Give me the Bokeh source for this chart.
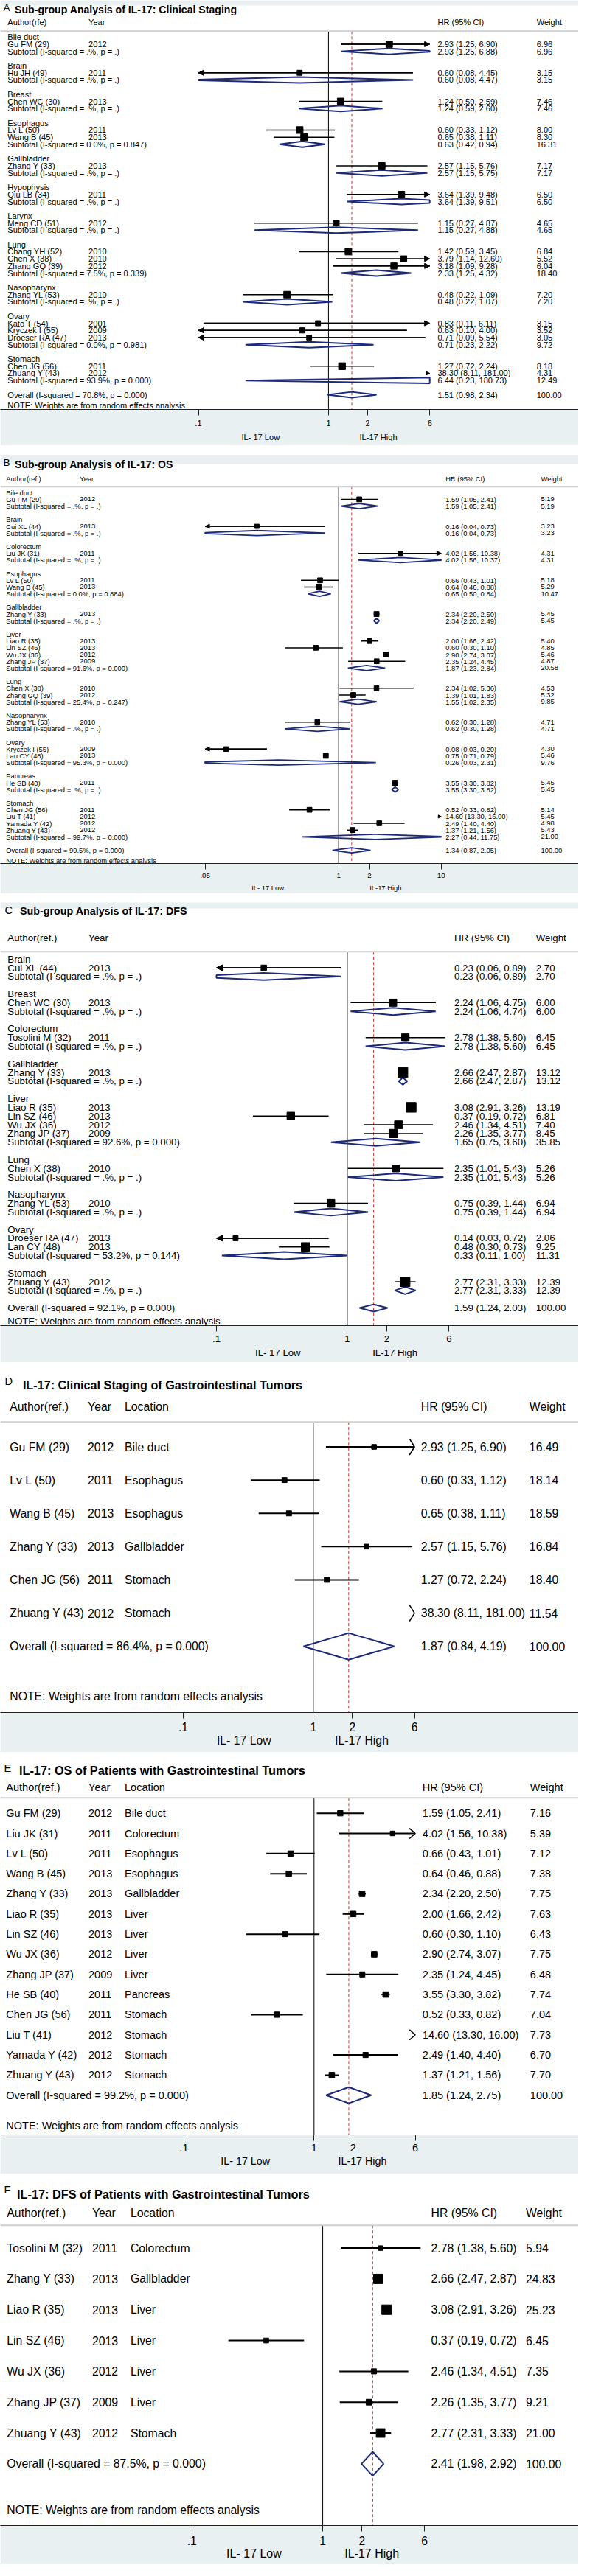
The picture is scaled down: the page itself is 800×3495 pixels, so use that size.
import math
from bokeh.plotting import figure
from bokeh.models import (Range1d, FixedTicker, CustomJSTickFormatter, LogAxis, LabelSet,
                          ColumnDataSource, BoxAnnotation, Arrow, NormalHead, Span)
from bokeh.layouts import column
from bokeh.embed import file_html
from bokeh.resources import INLINE
from bokeh.core.properties import value

# ======================= DATA =======================
NULL_HR = 1.0
NOTE_TEXT = "NOTE: Weights are from random effects analysis"
LOW_LABEL = "IL- 17 Low"
HIGH_LABEL = "IL-17 High"

# ---- Panel A : clinical staging (subgroups) ----
A_letter = "A"
A_title = "Sub-group Analysis of IL-17: Clinical Staging"
A_header = ["Author(rfe)", "Year", "HR (95% CI)", "Weight"]
A_ticks = [0.1, 1, 2, 6]
A_groups = ["Bile duct", "Brain", "Breast", "Esophagus", "Gallbladder", "Hypophysis",
            "Larynx", "Lung", "Nasopharynx", "Ovary", "Stomach"]
A_study_group = [0, 1, 2, 3, 3, 4, 5, 6, 7, 7, 7, 8, 9, 9, 9, 10, 10]
A_authors = ["Gu FM (29)", "Hu JH (49)", "Chen WC (30)", "Lv L (50)", "Wang B (45)",
             "Zhang Y (33)", "Qiu LB (34)", "Meng CD (51)", "Chang YH (52)", "Chen X (38)",
             "Zhang GQ (39)", "Zhang YL (53)", "Kato T (54)", "Kryczek I (55)",
             "Droeser RA (47)", "Chen JG (56)", "Zhuang Y (43)"]
A_years = ["2012", "2011", "2013", "2011", "2013", "2013", "2011", "2012", "2010", "2010",
           "2012", "2010", "2001", "2009", "2013", "2011", "2012"]
A_hr = [2.93, 0.60, 1.24, 0.60, 0.65, 2.57, 3.64, 1.15, 1.42, 3.79, 3.18, 0.48, 0.83, 0.63, 0.71, 1.27, 38.30]
A_lo = [1.25, 0.08, 0.59, 0.33, 0.38, 1.15, 1.39, 0.27, 0.59, 1.14, 1.09, 0.22, 0.11, 0.10, 0.09, 0.72, 8.11]
A_hi = [6.90, 4.45, 2.59, 1.12, 1.11, 5.76, 9.48, 4.87, 3.45, 12.60, 9.28, 1.09, 6.11, 4.00, 5.54, 2.24, 181.00]
A_wt = [6.96, 3.15, 7.46, 8.00, 8.30, 7.17, 6.50, 4.65, 6.84, 5.52, 6.04, 7.20, 3.15, 3.52, 3.05, 8.18, 4.31]
A_sub_i2 = [".%", ".%", ".%", "0.0%", ".%", ".%", ".%", "7.5%", ".%", "0.0%", "93.9%"]
A_sub_p = [".", ".", ".", "0.847", ".", ".", ".", "0.339", ".", "0.981", "0.000"]
A_sub_hr = [2.93, 0.60, 1.24, 0.63, 2.57, 3.64, 1.15, 2.33, 0.48, 0.71, 6.44]
A_sub_lo = [1.25, 0.08, 0.59, 0.42, 1.15, 1.39, 0.27, 1.25, 0.22, 0.23, 0.23]
A_sub_hi = [6.88, 4.47, 2.60, 0.94, 5.75, 9.51, 4.88, 4.32, 1.07, 2.22, 180.73]
A_sub_wt = [6.96, 3.15, 7.46, 16.31, 7.17, 6.50, 4.65, 18.40, 7.20, 9.72, 12.49]
A_ov = ["70.8%", "0.000", 1.51, 0.98, 2.34, 100.00]

# ---- Panel B : OS (subgroups) ----
B_letter = "B"
B_title = "Sub-group Analysis of IL-17: OS"
B_header = ["Author(ref.)", "Year", "HR (95% CI)", "Weight"]
B_ticks = [0.05, 1, 2, 10]
B_groups = ["Bile duct", "Brain", "Colorectum", "Esophagus", "Gallbladder", "Liver", "Lung",
            "Nasopharynx", "Ovary", "Pancreas", "Stomach"]
B_study_group = [0, 1, 2, 3, 3, 4, 5, 5, 5, 5, 6, 6, 7, 8, 8, 9, 10, 10, 10, 10]
B_authors = ["Gu FM (29)", "Cui XL (44)", "Liu JK (31)", "Lv L (50)", "Wang B (45)",
             "Zhang Y (33)", "Liao R (35)", "Lin SZ (46)", "Wu JX (36)", "Zhang JP (37)",
             "Chen X (38)", "Zhang GQ (39)", "Zhang YL (53)", "Kryczek I (55)", "Lan CY (48)",
             "He SB (40)", "Chen JG (56)", "Liu T (41)", "Yamada Y (42)", "Zhuang Y (43)"]
B_years = ["2012", "2013", "2011", "2011", "2013", "2013", "2013", "2013", "2012", "2009",
           "2010", "2012", "2010", "2009", "2013", "2011", "2011", "2012", "2012", "2012"]
B_hr = [1.59, 0.16, 4.02, 0.66, 0.64, 2.34, 2.00, 0.60, 2.90, 2.35, 2.34, 1.39, 0.62, 0.08, 0.75, 3.55, 0.52, 14.60, 2.49, 1.37]
B_lo = [1.05, 0.04, 1.56, 0.43, 0.46, 2.20, 1.66, 0.30, 2.74, 1.24, 1.02, 1.01, 0.30, 0.03, 0.71, 3.30, 0.33, 13.30, 1.40, 1.21]
B_hi = [2.41, 0.73, 10.38, 1.01, 0.88, 2.50, 2.42, 1.10, 3.07, 4.45, 5.36, 1.83, 1.28, 0.20, 0.79, 3.82, 0.82, 16.00, 4.40, 1.56]
B_wt = [5.19, 3.23, 4.31, 5.18, 5.29, 5.45, 5.40, 4.85, 5.46, 4.87, 4.53, 5.32, 4.71, 4.30, 5.46, 5.45, 5.14, 5.45, 4.98, 5.43]
B_sub_i2 = [".%", ".%", ".%", "0.0%", ".%", "91.6%", "25.4%", ".%", "95.3%", ".%", "99.7%"]
B_sub_p = [".", ".", ".", "0.884", ".", "0.000", "0.247", ".", "0.000", ".", "0.000"]
B_sub_hr = [1.59, 0.16, 4.02, 0.65, 2.34, 1.87, 1.55, 0.62, 0.26, 3.55, 2.27]
B_sub_lo = [1.05, 0.04, 1.56, 0.50, 2.20, 1.23, 1.02, 0.30, 0.03, 3.30, 0.44]
B_sub_hi = [2.41, 0.73, 10.37, 0.84, 2.49, 2.84, 2.35, 1.28, 2.31, 3.82, 11.75]
B_sub_wt = [5.19, 3.23, 4.31, 10.47, 5.45, 20.58, 9.85, 4.71, 9.76, 5.45, 21.00]
B_ov = ["99.5%", "0.000", 1.34, 0.87, 2.05, 100.00]

# ---- Panel C : DFS (subgroups) ----
C_letter = "C"
C_title = "Sub-group Analysis of IL-17: DFS"
C_header = ["Author(ref.)", "Year", "HR (95% CI)", "Weight"]
C_ticks = [0.1, 1, 2, 6]
C_groups = ["Brain", "Breast", "Colorectum", "Gallbladder", "Liver", "Lung", "Nasopharynx",
            "Ovary", "Stomach"]
C_study_group = [0, 1, 2, 3, 4, 4, 4, 4, 5, 6, 7, 7, 8]
C_authors = ["Cui XL (44)", "Chen WC (30)", "Tosolini M (32)", "Zhang Y (33)", "Liao R (35)",
             "Lin SZ (46)", "Wu JX (36)", "Zhang JP (37)", "Chen X (38)", "Zhang YL (53)",
             "Droeser RA (47)", "Lan CY (48)", "Zhuang Y (43)"]
C_years = ["2013", "2013", "2011", "2013", "2013", "2013", "2012", "2009", "2010", "2010",
           "2013", "2013", "2012"]
C_hr = [0.23, 2.24, 2.78, 2.66, 3.08, 0.37, 2.46, 2.26, 2.35, 0.75, 0.14, 0.48, 2.77]
C_lo = [0.06, 1.06, 1.38, 2.47, 2.91, 0.19, 1.34, 1.35, 1.01, 0.39, 0.03, 0.30, 2.31]
C_hi = [0.89, 4.75, 5.60, 2.87, 3.26, 0.72, 4.51, 3.77, 5.43, 1.44, 0.72, 0.73, 3.33]
C_wt = [2.70, 6.00, 6.45, 13.12, 13.19, 6.81, 7.40, 8.45, 5.26, 6.94, 2.06, 9.25, 12.39]
C_sub_i2 = [".%", ".%", ".%", ".%", "92.6%", ".%", ".%", "53.2%", ".%"]
C_sub_p = [".", ".", ".", ".", "0.000", ".", ".", "0.144", "."]
C_sub_hr = [0.23, 2.24, 2.78, 2.66, 1.65, 2.35, 0.75, 0.33, 2.77]
C_sub_lo = [0.06, 1.06, 1.38, 2.47, 0.75, 1.01, 0.39, 0.11, 2.31]
C_sub_hi = [0.89, 4.74, 5.60, 2.87, 3.60, 5.43, 1.44, 1.00, 3.33]
C_sub_wt = [2.70, 6.00, 6.45, 13.12, 35.85, 5.26, 6.94, 11.31, 12.39]
C_ov = ["92.1%", "0.000", 1.59, 1.24, 2.03, 100.00]

# ---- Panel D : clinical staging, GI tumours ----
D_letter = "D"
D_title = "IL-17: Clinical Staging of Gastrointestinal Tumors"
D_header = ["Author(ref.)", "Year", "Location", "HR (95% CI)", "Weight"]
D_ticks = [0.1, 1, 2, 6]
D_authors = ["Gu FM (29)", "Lv L (50)", "Wang B (45)", "Zhang Y (33)", "Chen JG (56)", "Zhuang Y (43)"]
D_years = ["2012", "2011", "2013", "2013", "2011", "2012"]
D_locs = ["Bile duct", "Esophagus", "Esophagus", "Gallbladder", "Stomach", "Stomach"]
D_hr = [2.93, 0.60, 0.65, 2.57, 1.27, 38.30]
D_lo = [1.25, 0.33, 0.38, 1.15, 0.72, 8.11]
D_hi = [6.90, 1.12, 1.11, 5.76, 2.24, 181.00]
D_wt = [16.49, 18.14, 18.59, 16.84, 18.40, 11.54]
D_ov = ["86.4%", "0.000", 1.87, 0.84, 4.19, 100.00]

# ---- Panel E : OS, GI tumours ----
E_letter = "E"
E_title = "IL-17: OS of Patients with Gastrointestinal Tumors"
E_header = ["Author(ref.)", "Year", "Location", "HR (95% CI)", "Weight"]
E_ticks = [0.1, 1, 2, 6]
E_authors = ["Gu FM (29)", "Liu JK (31)", "Lv L (50)", "Wang B (45)", "Zhang Y (33)", "Liao R (35)",
             "Lin SZ (46)", "Wu JX (36)", "Zhang JP (37)", "He SB (40)", "Chen JG (56)",
             "Liu T (41)", "Yamada Y (42)", "Zhuang Y (43)"]
E_years = ["2012", "2011", "2011", "2013", "2013", "2013", "2013", "2012", "2009", "2011",
           "2011", "2012", "2012", "2012"]
E_locs = ["Bile duct", "Colorectum", "Esophagus", "Esophagus", "Gallbladder", "Liver", "Liver",
          "Liver", "Liver", "Pancreas", "Stomach", "Stomach", "Stomach", "Stomach"]
E_hr = [1.59, 4.02, 0.66, 0.64, 2.34, 2.00, 0.60, 2.90, 2.35, 3.55, 0.52, 14.60, 2.49, 1.37]
E_lo = [1.05, 1.56, 0.43, 0.46, 2.20, 1.66, 0.30, 2.74, 1.24, 3.30, 0.33, 13.30, 1.40, 1.21]
E_hi = [2.41, 10.38, 1.01, 0.88, 2.50, 2.42, 1.10, 3.07, 4.45, 3.82, 0.82, 16.00, 4.40, 1.56]
E_wt = [7.16, 5.39, 7.12, 7.38, 7.75, 7.63, 6.43, 7.75, 6.48, 7.74, 7.04, 7.73, 6.70, 7.70]
E_ov = ["99.2%", "0.000", 1.85, 1.24, 2.75, 100.00]

# ---- Panel F : DFS, GI tumours ----
F_letter = "F"
F_title = "IL-17: DFS of Patients with Gastrointestinal Tumors"
F_header = ["Author(ref.)", "Year", "Location", "HR (95% CI)", "Weight"]
F_ticks = [0.1, 1, 2, 6]
F_authors = ["Tosolini M (32)", "Zhang Y (33)", "Liao R (35)", "Lin SZ (46)", "Wu JX (36)",
             "Zhang JP (37)", "Zhuang Y (43)"]
F_years = ["2011", "2013", "2013", "2013", "2012", "2009", "2012"]
F_locs = ["Colorectum", "Gallbladder", "Liver", "Liver", "Liver", "Liver", "Stomach"]
F_hr = [2.78, 2.66, 3.08, 0.37, 2.46, 2.26, 2.77]
F_lo = [1.38, 2.47, 2.91, 0.19, 1.34, 1.35, 2.31]
F_hi = [5.60, 2.87, 3.26, 0.72, 4.51, 3.77, 3.33]
F_wt = [5.94, 24.83, 25.23, 6.45, 7.35, 9.21, 21.00]
F_ov = ["87.5%", "0.000", 2.41, 1.98, 2.92, 100.00]

# ======================= STYLE / LAYOUT =======================
SX = 784 / 800
SY = 3479 / 3495
BAND = "#e8f0f2"
NAVY = "#1c2a78"
RED = "#c0392b"
GRAY = "#cfcfcf"
FONT = "Liberation Sans"

CFG_A = dict(top=0, axis=558, bottom=607, y0=50, dy=9.76, px1=454, dec=180, clip=(0.1, 6),
             sep=42, header_y=30, title=(20, 13), letter=(4, 10), bands=[(0, 7)],
             cols=dict(author=10, year=122, hr=605, wt=742), fs=11.3, font=FONT,
             fs_title=14.4, fs_letter=14, fs_tick=11, fs_il=11.3, tick_c=20, il_c=39,
             il_x=(360, 523), box=(3.0, 2.27), arrow="head", head=7, hh=0.41, ci_w=1.5, dia_w=2.0)
CFG_B = dict(top=607, axis=1176, bottom=1218, y0=671, dy=9.19, px1=468, dec=142, clip=(0.05, 10),
             sep=663, header_y=652, title=(20, 633), letter=(4, 630), bands=[(620, 632)],
             cols=dict(author=8, year=110, hr=616, wt=748), fs=9.6, font=FONT,
             fs_title=14.3, fs_letter=14, fs_tick=10, fs_il=9.6, tick_c=19, il_c=35,
             il_x=(370, 533), box=(3.0, 1.7), arrow="head", head=6, hh=0.38, ci_w=1.5, dia_w=1.8)
CFG_C = dict(top=1218, axis=1806, bottom=1857, y0=1307, dy=11.875, px1=480, dec=181, clip=(0.1, 6),
             sep=1297, header_y=1278, title=(27, 1242), letter=(6, 1241), bands=[(1230, 1238)],
             cols=dict(author=10, year=122, hr=628, wt=741), fs=13.6, font=FONT,
             fs_title=14.6, fs_letter=15, fs_tick=13.5, fs_il=13.5, tick_c=21, il_c=40,
             il_x=(384, 546), box=(2.8, 2.97), arrow="head", head=8, hh=0.42, ci_w=1.5, dia_w=2.0)
CFG_D = dict(top=1857, axis=2334, bottom=2388, y0=1972, dy=45.3, px1=433, dec=180, clip=(0.1, 6),
             sep=1938, header_y=1917, title=(31, 1888), letter=(6, 1883), bands=[],
             cols=dict(author=13, year=121, loc=172, hr=582, wt=732), fs=16.1, font=FONT,
             fs_title=16.5, fs_letter=15, fs_tick=16, fs_il=16.1, tick_c=22, il_c=42,
             il_x=(337, 500), box=(0.0, 1.65), arrow="chevron", chev=(7, 11), hh=0.40, ci_w=2, dia_w=2)
CFG_E = dict(top=2388, axis=2909, bottom=2963, y0=2471, dy=27.43, px1=434, dec=180, clip=(0.1, 6),
             sep=2450, header_y=2436, title=(26, 2413), letter=(5, 2410), bands=[],
             cols=dict(author=8, year=122, loc=172, hr=584, wt=733), fs=14.8, font=FONT,
             fs_title=16.6, fs_letter=15, fs_tick=15, fs_il=14.6, tick_c=21, il_c=40,
             il_x=(339, 501), box=(0.0, 2.8), arrow="chevron", chev=(8, 7), hh=0.40, ci_w=2, dia_w=2)
CFG_F = dict(top=2963, axis=3442, bottom=3495, y0=3064, dy=42, px1=446, dec=181, clip=(0.1, 6),
             sep=3033, header_y=3016, title=(23, 2991), letter=(5, 2985), bands=[],
             cols=dict(author=9, year=127, loc=180, hr=596, wt=727), fs=16.1, font=FONT,
             fs_title=16.6, fs_letter=15, fs_tick=16, fs_il=16.3, tick_c=23, il_c=41,
             il_x=(351, 514), box=(0.0, 2.65), arrow="chevron", chev=(8, 8), hh=0.39, ci_w=2, dia_w=2)


def py(v):
    return int(round(v * SY))


def ci(h, l, u):
    return f"{h:.2f} ({l:.2f}, {u:.2f})"


def grouped_rows(groups, sgrp, authors, years, hr, lo, hi, wt,
                 s_i2, s_p, s_hr, s_lo, s_hi, s_wt, ov):
    T = {"author": [], "year": [], "hr": [], "wt": []}
    S = {"line": [], "hr": [], "lo": [], "hi": [], "wt": []}
    D = {"line": [], "hr": [], "lo": [], "hi": []}
    ln = 0
    for g, name in enumerate(groups):
        T["author"].append((ln, name))
        ln += 1
        for i, k in enumerate(sgrp):
            if k != g:
                continue
            T["author"].append((ln, authors[i]))
            T["year"].append((ln, years[i]))
            T["hr"].append((ln, ci(hr[i], lo[i], hi[i])))
            T["wt"].append((ln, f"{wt[i]:.2f}"))
            S["line"].append(ln); S["hr"].append(hr[i]); S["lo"].append(lo[i])
            S["hi"].append(hi[i]); S["wt"].append(wt[i])
            ln += 1
        T["author"].append((ln, f"Subtotal  (I-squared = {s_i2[g]}, p = {s_p[g]})"))
        T["hr"].append((ln, ci(s_hr[g], s_lo[g], s_hi[g])))
        T["wt"].append((ln, f"{s_wt[g]:.2f}"))
        D["line"].append(ln); D["hr"].append(s_hr[g]); D["lo"].append(s_lo[g]); D["hi"].append(s_hi[g])
        ln += 2
    i2, pv, oh, ol, ou, ow = ov
    T["author"].append((ln, f"Overall  (I-squared = {i2}, p = {pv})"))
    T["hr"].append((ln, ci(oh, ol, ou)))
    T["wt"].append((ln, f"{ow:.2f}"))
    D["line"].append(ln); D["hr"].append(oh); D["lo"].append(ol); D["hi"].append(ou)
    T["author"].append((ln + 1.5, NOTE_TEXT))
    return T, S, D


def flat_rows(authors, years, locs, hr, lo, hi, wt, ov):
    T = {"author": [], "year": [], "loc": [], "hr": [], "wt": []}
    S = {"line": [], "hr": [], "lo": [], "hi": [], "wt": []}
    D = {"line": [], "hr": [], "lo": [], "hi": []}
    for i in range(len(authors)):
        T["author"].append((i, authors[i]))
        T["year"].append((i, years[i]))
        T["loc"].append((i, locs[i]))
        T["hr"].append((i, ci(hr[i], lo[i], hi[i])))
        T["wt"].append((i, f"{wt[i]:.2f}"))
        S["line"].append(i); S["hr"].append(hr[i]); S["lo"].append(lo[i])
        S["hi"].append(hi[i]); S["wt"].append(wt[i])
    ln = len(authors)
    i2, pv, oh, ol, ou, ow = ov
    T["author"].append((ln, f"Overall  (I-squared = {i2}, p = {pv})"))
    T["hr"].append((ln, ci(oh, ol, ou)))
    T["wt"].append((ln, f"{ow:.2f}"))
    D["line"].append(ln); D["hr"].append(oh); D["lo"].append(ol); D["hi"].append(ou)
    T["author"].append((ln + 1.5, NOTE_TEXT))
    return T, S, D


def diamond(h, l, u, line, hh, cl, ch):
    a, c, b = math.log10(l), math.log10(h), math.log10(u)
    xa, xb = math.log10(cl), math.log10(ch)

    def half(x):
        if x <= c:
            return hh * (x - a) / (c - a) if c > a else hh
        return hh * (b - x) / (b - c) if b > c else hh

    pts = sorted({max(a, xa), min(b, xb)} | ({c} if xa < c < xb else set()))
    top = [(x, line - half(x)) for x in pts]
    bot = [(x, line + half(x)) for x in reversed(pts)]
    poly = top + bot
    return [10 ** x for x, _ in poly], [y for _, y in poly]


def add_text(p, xs, ys, texts, size, font=FONT, bold=False):
    src = ColumnDataSource(dict(x=xs, y=ys, t=texts))
    p.add_layout(LabelSet(x="x", y="y", text="t", source=src, x_units="screen", y_units="data",
                          text_font=value(font), text_font_size=value(f"{size * SX:.1f}px"),
                          text_font_style="bold" if bold else "normal",
                          text_baseline="middle", text_align="left", text_color="black"))


def panel(cfg, letter, title, header, ticks, T, S, D, ov_hr):
    top, axis, bottom = cfg["top"], cfg["axis"], cfg["bottom"]
    y0, dy = cfg["y0"], cfg["dy"]
    px1, dec = cfg["px1"], cfg["dec"]

    def L(px):
        return (px - y0) / dy

    def X(px):
        return 10 ** ((px - px1) / dec)

    H = py(bottom) - py(top)
    band_h = py(bottom) - py(axis)
    p = figure(width=784, height=H, x_axis_type="log",
               x_range=Range1d(X(0), X(800)), y_range=Range1d(L(axis), L(top)),
               output_backend="svg", toolbar_location=None, y_axis_location=None,
               min_border=0, min_border_left=0, min_border_right=0, min_border_top=0,
               min_border_bottom=band_h, outline_line_color=None,
               border_fill_color=BAND, background_fill_color="white")
    p.grid.visible = False

    for a, b in cfg["bands"]:
        p.add_layout(BoxAnnotation(top=L(a), bottom=L(b), fill_color=BAND, fill_alpha=1.0,
                                   line_color=None, level="underlay"))
    p.add_layout(Span(location=L(cfg["sep"]), dimension="width", line_color=GRAY, line_width=2))

    ysep, yax = L(cfg["sep"]), L(axis)
    p.segment(x0=[NULL_HR], y0=[ysep], x1=[NULL_HR], y1=[yax], line_color="black", line_width=1)
    p.segment(x0=[ov_hr], y0=[ysep], x1=[ov_hr], y1=[yax], line_color=RED, line_width=1,
              line_dash="4 3")

    cl, ch = cfg["clip"]
    seg = dict(x0=[], x1=[], y=[])
    box = dict(x=[], y=[], s=[])
    la = dict(xs=[], xe=[], y=[])
    ra = dict(xs=[], xe=[], y=[])
    off = []
    ba, bb = cfg["box"]
    for ln, h, l, u, w in zip(S["line"], S["hr"], S["lo"], S["hi"], S["wt"]):
        if l >= ch:
            off.append(ln)
            continue
        a, b = max(l, cl), min(u, ch)
        seg["x0"].append(a); seg["x1"].append(b); seg["y"].append(ln)
        if cl <= h <= ch:
            box["x"].append(h); box["y"].append(ln); box["s"].append((ba + bb * math.sqrt(w)) * SX)
        if l <= cl * 1.0001:
            la["xs"].append(b); la["xe"].append(cl); la["y"].append(ln)
        if u > ch:
            ra["xs"].append(a); ra["xe"].append(ch); ra["y"].append(ln)

    dxs, dys = [], []
    for ln, h, l, u in zip(D["line"], D["hr"], D["lo"], D["hi"]):
        xs, ys = diamond(h, l, u, ln, cfg["hh"], cl, ch)
        dxs.append(xs); dys.append(ys)
    p.patches(xs=dxs, ys=dys, fill_alpha=0, line_color=NAVY, line_width=cfg["dia_w"])

    p.segment(x0="x0", y0="y", x1="x1", y1="y", source=ColumnDataSource(seg),
              line_color="black", line_width=cfg["ci_w"])
    p.scatter(x="x", y="y", size="s", marker="square", source=ColumnDataSource(box),
              fill_color="black", line_color="black")

    if cfg["arrow"] == "head":
        for d in (la, ra):
            if d["y"]:
                p.add_layout(Arrow(end=NormalHead(size=cfg["head"], fill_color="black", line_color="black",
                                                  line_width=1),
                                   x_start="xs", y_start="y", x_end="xe", y_end="y",
                                   source=ColumnDataSource(d), line_color="black", line_width=cfg["ci_w"]))
        if off:
            src = dict(xs=[ch * 10 ** (-3 / dec)] * len(off), xe=[ch] * len(off), y=off)
            p.add_layout(Arrow(end=NormalHead(size=cfg["head"] - 2, fill_color="black", line_color="black",
                                              line_width=1),
                               x_start="xs", y_start="y", x_end="xe", y_end="y",
                               source=ColumnDataSource(src), line_color="black", line_width=1))
    else:
        cw, chh = cfg["chev"]
        k = 10 ** (-cw / dec)
        mx, my = [], []
        for ln in la["y"]:
            mx.append([cl / k, cl, cl / k]); my.append([ln - chh / dy, ln, ln + chh / dy])
        for ln in ra["y"] + off:
            mx.append([ch * k, ch, ch * k]); my.append([ln - chh / dy, ln, ln + chh / dy])
        if mx:
            p.multi_line(xs=mx, ys=my, line_color="black", line_width=1.6)

    # texts
    fam = cfg["font"]
    for col, items in T.items():
        xs = [cfg["cols"][col] * SX] * len(items)
        add_text(p, xs, [it[0] for it in items], [it[1] for it in items], cfg["fs"], fam)
    hcols = ["author", "year", "loc", "hr", "wt"] if "loc" in cfg["cols"] else ["author", "year", "hr", "wt"]
    add_text(p, [cfg["cols"][c] * SX for c in hcols], [L(cfg["header_y"])] * len(hcols), header,
             cfg["fs"], fam)
    add_text(p, [cfg["title"][0] * SX], [L(cfg["title"][1])], [title], cfg["fs_title"], FONT, bold=True)
    add_text(p, [cfg["letter"][0] * SX], [L(cfg["letter"][1])], [letter], cfg["fs_letter"], FONT)

    # axes
    tick_out = 8
    fs_t = cfg["fs_tick"] * SX
    so1 = max(0, int(round(cfg["tick_c"] * SY - tick_out - 0.58 * fs_t)))
    ext1 = tick_out + so1 + 1.16 * fs_t
    fs_il = cfg["fs_il"] * SX
    so2 = max(0, int(round(cfg["il_c"] * SY - ext1 - 0.58 * fs_il)))

    ax = p.xaxis[0]
    ax.ticker = FixedTicker(ticks=ticks)
    ax.formatter = CustomJSTickFormatter(
        code="var s = String(tick); if (s.indexOf('0.') === 0) { s = s.slice(1); } return s;")
    ax.axis_line_color = "#222222"
    ax.axis_line_width = 1.2
    ax.major_tick_line_color = "#222222"
    ax.major_tick_out = tick_out
    ax.major_tick_in = 0
    ax.minor_tick_line_color = None
    ax.major_label_text_font = FONT
    ax.major_label_text_font_size = f"{fs_t:.1f}px"
    ax.major_label_text_color = "black"
    ax.major_label_standoff = so1

    ax2 = LogAxis(ticker=FixedTicker(ticks=[X(cfg["il_x"][0]), X(cfg["il_x"][1])]),
                  formatter=CustomJSTickFormatter(args=dict(lo=LOW_LABEL, hi=HIGH_LABEL),
                                                  code="return tick < 1 ? lo : hi;"),
                  axis_line_color=None, major_tick_line_color=None, minor_tick_line_color=None,
                  major_tick_out=0, major_tick_in=0, major_label_standoff=so2,
                  major_label_text_font=FONT, major_label_text_font_size=f"{fs_il:.1f}px",
                  major_label_text_color="black")
    p.add_layout(ax2, "below")
    return p


TA, SA, DA = grouped_rows(A_groups, A_study_group, A_authors, A_years, A_hr, A_lo, A_hi, A_wt,
                          A_sub_i2, A_sub_p, A_sub_hr, A_sub_lo, A_sub_hi, A_sub_wt, A_ov)
TB, SB, DB = grouped_rows(B_groups, B_study_group, B_authors, B_years, B_hr, B_lo, B_hi, B_wt,
                          B_sub_i2, B_sub_p, B_sub_hr, B_sub_lo, B_sub_hi, B_sub_wt, B_ov)
TC, SC, DC = grouped_rows(C_groups, C_study_group, C_authors, C_years, C_hr, C_lo, C_hi, C_wt,
                          C_sub_i2, C_sub_p, C_sub_hr, C_sub_lo, C_sub_hi, C_sub_wt, C_ov)
TD, SD, DD = flat_rows(D_authors, D_years, D_locs, D_hr, D_lo, D_hi, D_wt, D_ov)
TE, SE, DE = flat_rows(E_authors, E_years, E_locs, E_hr, E_lo, E_hi, E_wt, E_ov)
TF, SF, DF = flat_rows(F_authors, F_years, F_locs, F_hr, F_lo, F_hi, F_wt, F_ov)

pA = panel(CFG_A, A_letter, A_title, A_header, A_ticks, TA, SA, DA, A_ov[2])
pB = panel(CFG_B, B_letter, B_title, B_header, B_ticks, TB, SB, DB, B_ov[2])
pC = panel(CFG_C, C_letter, C_title, C_header, C_ticks, TC, SC, DC, C_ov[2])
pD = panel(CFG_D, D_letter, D_title, D_header, D_ticks, TD, SD, DD, D_ov[2])
pE = panel(CFG_E, E_letter, E_title, E_header, E_ticks, TE, SE, DE, E_ov[2])
pF = panel(CFG_F, F_letter, F_title, F_header, F_ticks, TF, SF, DF, F_ov[2])

layout = column(pA, pB, pC, pD, pE, pF, spacing=0)
open("out.html", "w").write(file_html(layout, INLINE))
